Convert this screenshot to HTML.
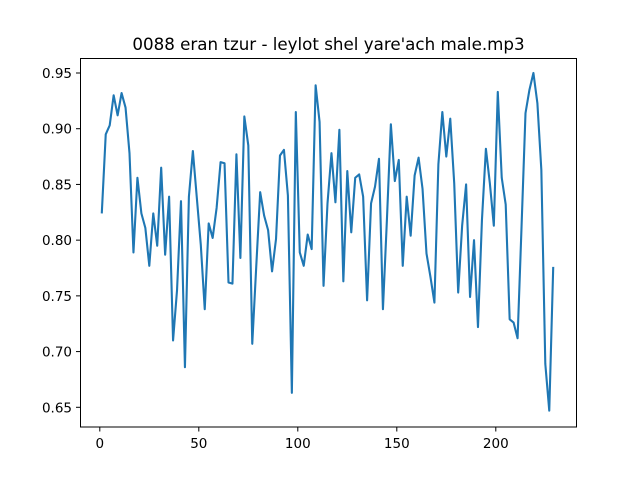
<!DOCTYPE html>
<html><head><meta charset="utf-8"><style>
html,body{margin:0;padding:0;background:#fff;}
svg{display:block;font-family:"DejaVu Sans","Liberation Sans",sans-serif;}
</style></head><body>
<svg id="chart" width="640" height="480" viewBox="0 0 640 480">
<rect width="640" height="480" fill="#fff"/>
<text x="328.5" y="50" text-anchor="middle" font-size="16.7" fill="#000">0088 eran tzur - leylot shel yare'ach male.mp3</text>
<g id="ticks"></g>
<path id="line" fill="none" stroke="#1f77b4" stroke-width="2.1" stroke-linejoin="round"/>
<rect x="80.5" y="58.5" width="496" height="368.5" fill="none" stroke="#000" stroke-width="1"/>
</svg>
<script>
const values = [0.824,0.895,0.903,0.930,0.912,0.932,0.919,0.878,0.789,0.856,0.824,0.811,0.777,0.824,0.795,0.865,0.787,0.839,0.710,0.755,0.835,0.686,0.839,0.880,0.838,0.796,0.738,0.815,0.802,0.829,0.870,0.869,0.762,0.761,0.877,0.784,0.911,0.885,0.707,
0.776,0.843,0.822,0.809,0.772,0.801,0.876,0.881,0.840,0.663,0.915,0.789,0.777,0.805,0.792,0.939,0.906,0.759,0.833,0.878,0.834,0.899,0.763,0.862,0.807,0.856,0.859,0.839,0.746,0.833,0.848,0.873,0.738,0.818,0.904,0.853,0.872,0.777,0.839,0.804,0.858,
0.874,0.846,0.788,0.767,0.744,0.868,0.915,0.875,0.909,0.851,0.753,0.813,0.850,0.749,0.800,0.722,0.818,0.882,0.851,0.813,0.933,0.856,0.832,0.729,0.726,0.712,0.812,0.914,0.935,0.950,0.923,0.863,0.689,0.647,0.776];
const xStart = 1;
const xStep = 2;
const xTicks = [0,50,100,150,200];
const yTicks = [0.65,0.70,0.75,0.80,0.85,0.90,0.95];
const yTickLabels = ["0.65","0.70","0.75","0.80","0.85","0.90","0.95"];

function xs(x){return 99.8 + x*1.98;}
function ys(v){return 407.3 - (v-0.65)/0.30*334.3;}

const NS="http://www.w3.org/2000/svg";
const tg=document.getElementById('ticks');
xTicks.forEach(t=>{
  const l=document.createElementNS(NS,'line');
  l.setAttribute('x1',xs(t));l.setAttribute('x2',xs(t));
  l.setAttribute('y1',427);l.setAttribute('y2',431.5);
  l.setAttribute('stroke','#000');
  
  
  tg.appendChild(l);
  const tx=document.createElementNS(NS,'text');
  tx.setAttribute('x',xs(t));tx.setAttribute('y',448);
  tx.setAttribute('text-anchor','middle');tx.setAttribute('font-size','13.5');
  tx.textContent=t;
  
  
  tg.appendChild(tx);
});
yTicks.forEach((t,i)=>{
  const l=document.createElementNS(NS,'line');
  l.setAttribute('x1',76);l.setAttribute('x2',80.5);
  l.setAttribute('y1',ys(t));l.setAttribute('y2',ys(t));
  l.setAttribute('stroke','#000');
  
  
  tg.appendChild(l);
  const tx=document.createElementNS(NS,'text');
  tx.setAttribute('x',72);tx.setAttribute('y',ys(t)+5);
  tx.setAttribute('text-anchor','end');tx.setAttribute('font-size','13.5');
  tx.textContent=yTickLabels[i];
  
  
  tg.appendChild(tx);
});
let d='';
values.forEach((v,i)=>{d+=(i?'L':'M')+xs(xStart+i*xStep).toFixed(2)+','+ys(v).toFixed(2);});
document.getElementById('line').setAttribute('d',d);
</script>
</body></html>
